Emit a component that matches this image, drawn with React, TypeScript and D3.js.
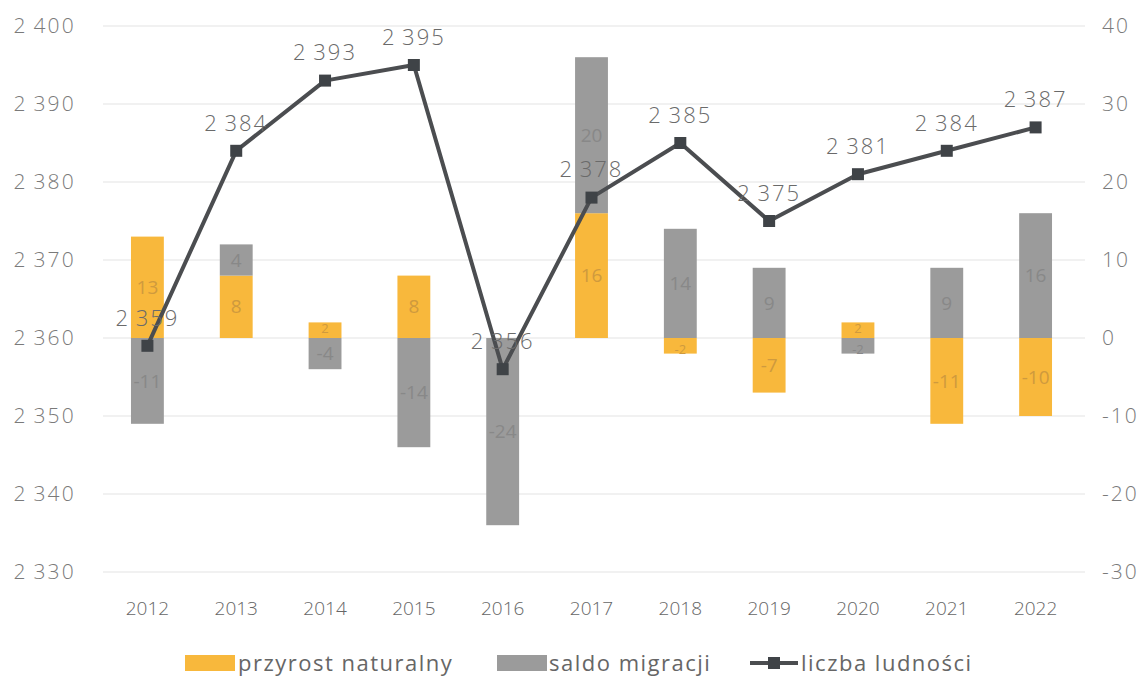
import React from "react";
import * as d3 from "d3";

const years = ["2012","2013","2014","2015","2016","2017","2018","2019","2020","2021","2022"];
const przyrost = [13, 8, 2, 8, 0, 16, -2, -7, 2, -11, -10];
const migracja = [-11, 4, -4, -14, -24, 20, 14, 9, -2, 9, 16];
const ludnosc = [2359, 2384, 2393, 2395, 2356, 2378, 2385, 2375, 2381, 2384, 2387];
const leftTicks = [2330, 2340, 2350, 2360, 2370, 2380, 2390, 2400];
const rightTicks = [-30, -20, -10, 0, 10, 20, 30, 40];

const W = 1143, H = 680;
const FONT = "'Open Sans', 'Noto Sans', sans-serif";
const ORANGE = "#f8b83c";
const GRAY = "#9b9b9b";
const LINE = "#4b4d50";

const fmt = (v: number) => {
  const s = String(v);
  return s.length > 3 ? s.slice(0, s.length - 3) + "\u2009" + s.slice(-3) : s;
};

export default function App() {
  const x = d3.scaleBand().domain(years).range([103, 1080]).paddingInner(0.63).paddingOuter(0.315);
  const yL = d3.scaleLinear().domain([2330, 2400]).range([572, 26]);
  const yR = d3.scaleLinear().domain([-30, 40]).range([572, 26]);
  const rows = years.map((y, i) => ({ year: y, p: przyrost[i], m: migracja[i] }));
  const series = d3.stack<any>().keys(["p", "m"]).offset(d3.stackOffsetDiverging)(rows);
  const colors: Record<string, string> = { p: ORANGE, m: GRAY };
  const labelColors: Record<string, string> = { p: "#cf9a3e", m: "#888888" };
  const bw = x.bandwidth();
  const cx = (y: string) => (x(y) as number) + bw / 2;
  const line = d3.line<number>().x((_, i) => cx(years[i])).y((v) => yL(v));

  return (
    <svg width={W} height={H} style={{ position: "absolute", left: 0, top: 0, background: "#fff" }} fontFamily={FONT}>
      {leftTicks.map((t) => (
        <line key={t} x1={103} x2={1085} y1={yL(t)} y2={yL(t)} stroke="#ececec" strokeWidth={1.5} />
      ))}
      {leftTicks.map((t) => (
        <text key={"l" + t} x={76} y={yL(t)} dy="0.35em" textAnchor="end" fontSize={21} letterSpacing={2.2} fill="#7a7a7a" fontWeight={300}>{fmt(t)}</text>
      ))}
      {rightTicks.map((t) => (
        <text key={"r" + t} x={1102} y={yR(t)} dy="0.35em" textAnchor="start" fontSize={21} letterSpacing={2} fill="#7a7a7a" fontWeight={300}>{t}</text>
      ))}
      {series.map((s) => (
        <g key={s.key}>
          {s.map((d, i) => {
            const y0 = yR(d[0]), y1 = yR(d[1]);
            return (
              <rect key={i} x={x(years[i])} y={Math.min(y0, y1)} width={bw} height={Math.abs(y1 - y0)} fill={colors[s.key]} />
            );
          })}
        </g>
      ))}
      {series.map((s) => (
        <g key={"t" + s.key}>
          {s.map((d, i) => {
            const v = (d.data as any)[s.key];
            if (v === 0) return null;
            const small = Math.abs(v) <= 2;
            const shift = small ? (v > 0 ? -2 : 4) : 0;
            return (
              <text key={i} x={cx(years[i])} y={(yR(d[0]) + yR(d[1])) / 2 + shift} dy="0.35em" textAnchor="middle" fontSize={small ? 13 : 19} fill={labelColors[s.key]}>{v}</text>
            );
          })}
        </g>
      ))}
      <path d={line(ludnosc) || ""} fill="none" stroke={LINE} strokeWidth={4} strokeLinejoin="round" />
      {ludnosc.map((v, i) => (
        <rect key={i} x={cx(years[i]) - 6} y={yL(v) - 6} width={12} height={12} fill="#3f4347" />
      ))}
      {ludnosc.map((v, i) => (
        <text key={"pl" + i} x={cx(years[i])} y={yL(v) - 28} dy="0.35em" textAnchor="middle" fontSize={22} letterSpacing={2} fill="#6a6a6a" fontWeight={300}>{fmt(v)}</text>
      ))}
      {years.map((y) => (
        <text key={"x" + y} x={cx(y)} y={608} dy="0.35em" textAnchor="middle" fontSize={19} fill="#666" fontWeight={300}>{y}</text>
      ))}
      <g fontSize={22} letterSpacing={1.5} fill="#666">
        <rect x={185} y={655} width={50} height={16} fill={ORANGE} />
        <text x={238} y={663} dy="0.35em" fill="#666">przyrost naturalny</text>
        <rect x={497} y={655} width={50} height={16} fill={GRAY} />
        <text x={549} y={663} dy="0.35em" fill="#666">saldo migracji</text>
        <line x1={750} x2={798} y1={663} y2={663} stroke={LINE} strokeWidth={4} />
        <rect x={768} y={657} width={12} height={12} fill="#3f4347" />
        <text x={801} y={663} dy="0.35em" fill="#666">liczba ludności</text>
      </g>
    </svg>
  );
}
